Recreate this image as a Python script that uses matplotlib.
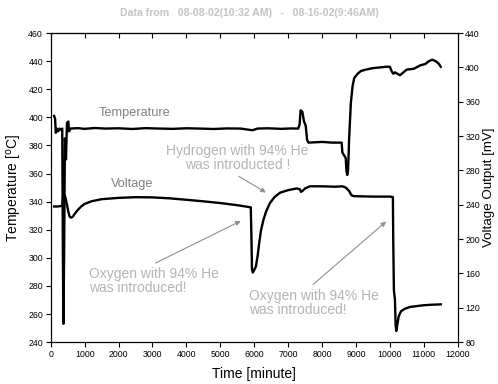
#!/usr/bin/env python3
"""Temperature and voltage output vs time, with gas introduction events."""

import matplotlib
matplotlib.use("Agg")
import matplotlib.pyplot as plt

plt.rcParams["font.family"] = ["Liberation Sans", "DejaVu Sans"]

# Temperature trace (left axis), time in minutes, degC
temp_time = [100, 130, 150, 180, 220, 260, 300, 340, 360, 375, 395, 420, 450, 480,
             520, 540, 580, 800, 1000, 1300, 1600, 2000, 2400, 2800, 3200, 3600,
             4000, 4400, 4800, 5200, 5600, 5950, 6100, 6400, 6800, 7100, 7300,
             7340, 7370, 7420, 7470, 7520, 7560, 7600, 8000, 8300, 8580, 8600,
             8650, 8700, 8720, 8745, 8770, 8800, 8850, 8900, 8950, 9050, 9150,
             9300, 9500, 9700, 9900, 10000, 10050, 10100, 10150, 10300, 10400,
             10500, 10700, 10900, 11050, 11150, 11250, 11350, 11450, 11500]
temp_vals = [401, 399, 389, 392, 390, 392, 391, 392, 300, 253, 300, 385, 370, 396,
             397, 390, 392, 392.3, 391.8, 392.4, 392, 392.2, 391.7, 392.3, 392, 391.8,
             392.2, 392, 391.7, 392.1, 392, 390.8, 392, 392.2, 391.8, 392.1, 392,
             395, 405, 404, 397, 394, 384, 382, 382.5, 382, 382, 375,
             373, 371, 362, 359, 363, 385, 410, 422, 428, 431, 433,
             434, 435, 435.5, 436, 436, 433, 431, 432, 430, 432,
             434, 434.5, 437, 438, 440, 441, 440, 438, 436]

# Voltage trace (right axis), time in minutes, mV
volt_time = [100, 200, 300, 340, 360, 390, 420, 450, 480, 520, 560, 600, 650, 700,
             800, 900, 1000, 1200, 1500, 2000, 2500, 3000, 3500, 4000, 4500, 5000,
             5500, 5900, 5920, 5935, 5960, 6000, 6050, 6100, 6150, 6200, 6270,
             6350, 6465, 6600, 6760, 7000, 7250, 7350, 7380, 7420, 7500, 7645,
             8000, 8400, 8600, 8700, 8800, 8870, 8950, 9500, 10000, 10090, 10100,
             10120, 10150, 10170, 10190, 10220, 10260, 10330, 10450, 10600, 10800,
             11000, 11200, 11500]
volt_vals = [238, 238, 238.5, 239, 248, 252, 250, 246, 240, 232, 226, 225, 226, 229,
             234, 238, 241, 244, 246.5, 248, 248.8, 248.6, 247.5, 245.8, 244, 242,
             239.5, 237, 200, 165, 161, 164, 168, 180, 196, 210, 222,
             232, 242, 249, 254, 257, 259, 258, 255, 256, 259, 261.5,
             261.5, 261, 261.5, 260, 256, 251, 250, 249.5, 249.5, 249, 200,
             140, 130, 100, 93, 100, 110, 116, 119, 121, 122,
             123, 123.5, 124]

TEXT_GRAY = "#b4b4b4"
LABEL_GRAY = "#808080"
ARROW_GRAY = "#909090"

fig = plt.figure(figsize=(4.98, 3.84), dpi=100)
ax = fig.add_axes([0.1018, 0.109, 0.8172, 0.805])
ax2 = ax.twinx()

ax.plot(temp_time, temp_vals, color="black", lw=1.7)
ax2.plot(volt_time, volt_vals, color="black", lw=1.7)

ax.set_xlim(0, 12000)
ax.set_ylim(240, 460)
ax2.set_ylim(80, 440)
ax.set_xticks(range(0, 12001, 1000))
ax.set_yticks(range(240, 461, 20))
ax2.set_yticks(range(80, 441, 40))

ax.tick_params(axis="both", labelsize=6.3, length=3.5, width=0.8, direction="out", pad=2)
ax2.tick_params(axis="y", labelsize=6.3, length=3.5, width=0.8, direction="out", pad=2)
top = ax.secondary_xaxis("top")
top.set_xticks(range(0, 12001, 1000))
top.tick_params(axis="x", direction="in", length=3.5, width=0.8, labeltop=False)
for a in (ax, ax2, top):
    for s in a.spines.values():
        s.set_linewidth(0.8)

ax.set_xlabel("Time [minute]", fontsize=10, labelpad=6)
ax.set_ylabel("Temperature [$^{\\mathrm{o}}$C]", fontsize=10, labelpad=3)
ax2.set_ylabel("Voltage Output [mV]", fontsize=9.6, labelpad=2)

fig.text(0.5, 0.965, "Data from   08-08-02(10:32 AM)   -   08-16-02(9:46AM)",
         ha="center", va="center", fontsize=7.6, fontweight="bold", color="#c4c4c4")

ax.text(2485, 402.8, "Temperature", ha="center", va="center", fontsize=9.2, color=LABEL_GRAY)
ax.text(2406, 352.5, "Voltage", ha="center", va="center", fontsize=9.2, color=LABEL_GRAY)

arrow = dict(arrowstyle="-|>", color=ARROW_GRAY, lw=0.8, mutation_scale=7)
ax.annotate("Oxygen with 94% He\nwas introduced!", xy=(5678, 327.1), xytext=(1130, 283.5),
            ha="left", va="center", fontsize=10, color=TEXT_GRAY, linespacing=1.0,
            arrowprops=dict(arrow, relpos=(0.45, 1.0)))
ax.annotate("Hydrogen with 94% He\nwas introducted !", xy=(6416, 345.5), xytext=(5507, 371),
            ha="center", va="center", fontsize=10, color=TEXT_GRAY, linespacing=1.0,
            arrowprops=dict(arrow, relpos=(0.46, 0.0)))
ax.annotate("Oxygen with 94% He\nwas introduced!", xy=(9953, 327.1), xytext=(5855, 267.8),
            ha="left", va="center", fontsize=10, color=TEXT_GRAY, linespacing=1.0,
            arrowprops=dict(arrow, relpos=(0.45, 1.0)))

fig.savefig("out.png", dpi=100)
